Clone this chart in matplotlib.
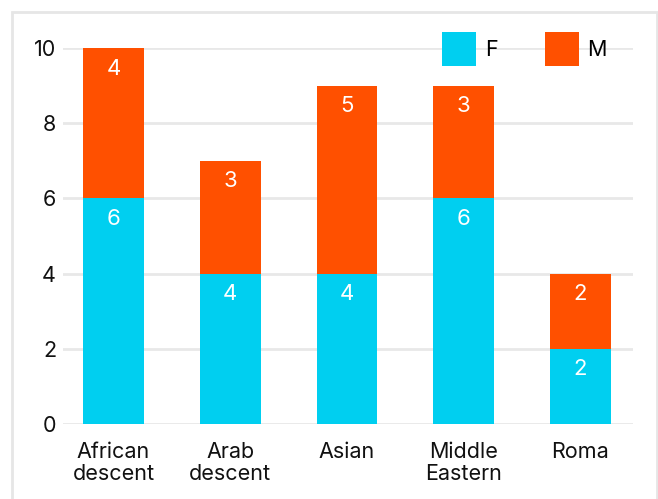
import matplotlib
matplotlib.use("Agg")
import matplotlib.pyplot as plt
from matplotlib.patches import Rectangle

# Data
categories = ["African\ndescent", "Arab\ndescent", "Asian", "Middle\nEastern", "Roma"]
female = [6, 4, 4, 6, 2]
male = [4, 3, 5, 3, 2]

F_COLOR = "#00CFF0"
M_COLOR = "#FF5000"
GRID_COLOR = "#E8E8E8"

plt.rcParams['font.family'] = ['Inter', 'DejaVu Sans']
FS = 15.5

W, H = 658, 499
fig = plt.figure(figsize=(W / 100, H / 100), dpi=100)

# light frame around the chart (open at the bottom)
fig.patches.append(Rectangle((12 / W, -0.1), (657 - 12) / W, 1.1 - 12 / H,
                             transform=fig.transFigure, fill=False,
                             edgecolor="#E6E6E6", linewidth=2))

ax = fig.add_axes([63 / W, 75 / H, 570 / W, 376 / H])

x = list(range(len(categories)))
bar_w = 0.52
ax.bar(x, female, width=bar_w, color=F_COLOR, label="F", zorder=3)
ax.bar(x, male, width=bar_w, bottom=female, color=M_COLOR, label="M", zorder=3)

# value labels near the top of each segment
for i in x:
    ax.text(i, female[i] - 0.55, str(female[i]), ha="center", va="center",
            color="white", fontsize=16, zorder=4)
    ax.text(i, female[i] + male[i] - 0.55, str(male[i]), ha="center", va="center",
            color="white", fontsize=16, zorder=4)

ax.set_xlim(-0.4325, 4.45)
ax.set_ylim(0, 10)
ax.set_yticks([0, 2, 4, 6, 8, 10])
ax.set_xticks(x)
ax.set_xticklabels(categories, fontsize=FS, linespacing=1.15)
ax.tick_params(axis="y", labelsize=FS, length=0, pad=5, colors="#111111")
ax.tick_params(axis="x", length=0, pad=13, colors="#111111")
ax.grid(axis="y", color=GRID_COLOR, linewidth=2, zorder=0)
ax.set_axisbelow(True)
for s in ax.spines.values():
    s.set_visible(False)

hh = (24.5 / FS - 0.245) / 0.65
leg = ax.legend(loc="upper left", bbox_to_anchor=(442 / W, 1 - 32 / H),
                bbox_transform=fig.transFigure, ncol=2, frameon=False,
                fontsize=FS, handlelength=24.5 / FS, handleheight=hh,
                handletextpad=0.4, columnspacing=2.2, borderpad=0,
                borderaxespad=0)

fig.savefig("out.png", dpi=100)
